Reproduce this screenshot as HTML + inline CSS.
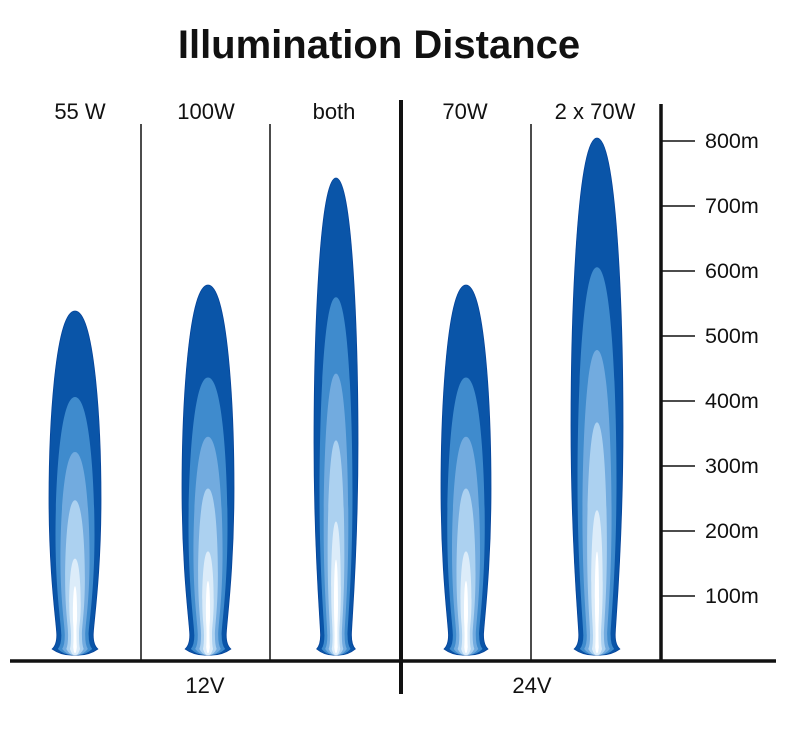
<!DOCTYPE html>
<html><head><meta charset="utf-8"><style>
body{margin:0;background:#fff;}
svg{display:block;font-family:"Liberation Sans",Arial,sans-serif;}
</style></head><body>
<svg id="s" width="800" height="732" viewBox="0 0 800 732">
<text x="379" y="58" font-size="40" font-weight="bold" text-anchor="middle" fill="#111">Illumination Distance</text>
<g font-size="22" fill="#111" text-anchor="middle">
<text x="80" y="119">55 W</text><text x="206" y="119">100W</text><text x="334" y="119">both</text>
<text x="465" y="119">70W</text><text x="595" y="119">2 x 70W</text>
<text x="205" y="693">12V</text><text x="532" y="693">24V</text>
</g>
<g stroke="#111">
<line x1="141" y1="124" x2="141" y2="661" stroke-width="1.5"/>
<line x1="270" y1="124" x2="270" y2="661" stroke-width="1.5"/>
<line x1="531" y1="124" x2="531" y2="661" stroke-width="1.5"/>
<line x1="401" y1="100" x2="401" y2="694" stroke-width="4"/>
<line x1="661" y1="104" x2="661" y2="661" stroke-width="3.5"/>
<line x1="10" y1="661" x2="776" y2="661" stroke-width="3.5"/>
</g>
<g id="ticks"></g>
<g id="beams"></g>
</svg>
<script>
var ns="http://www.w3.org/2000/svg";
var tk=document.getElementById("ticks");
var labs=["800m","700m","600m","500m","400m","300m","200m","100m"];
for(var i=0;i<8;i++){var y=141+i*65;
var l=document.createElementNS(ns,"line");l.setAttribute("x1",661);l.setAttribute("x2",695);l.setAttribute("y1",y);l.setAttribute("y2",y);l.setAttribute("stroke","#111");l.setAttribute("stroke-width","1.5");tk.appendChild(l);
var t=document.createElementNS(ns,"text");t.setAttribute("x",705);t.setAttribute("y",y+7);t.setAttribute("font-size","21.5");t.setAttribute("fill","#111");t.textContent=labs[i];tk.appendChild(t);}
var bm=document.getElementById("beams");
var cols=["#0a55a8","#3f8bcd","#72abdf","#acd1f0","#dcecf9","#ffffff"];
var fr=[1,0.75,0.59,0.45,0.28,0.2];
var wf=[1,0.75,0.56,0.38,0.22,0.08];
function path(cx,t,w,b){var n=b-20,H=n-t;
return "M"+cx+","+t+
" C"+(cx+w*0.75)+","+t+" "+(cx+w)+","+(t+0.35*H)+" "+(cx+w)+","+(t+0.58*H)+
" C"+(cx+w)+","+(t+0.82*H)+" "+(cx+0.7*w)+","+(n-10)+" "+(cx+0.7*w)+","+n+
" Q"+(cx+0.7*w)+","+(n+10)+" "+(cx+0.88*w)+","+(b-6)+
" Q"+(cx+0.5*w)+","+(b+1)+" "+cx+","+b+
" Q"+(cx-0.5*w)+","+(b+1)+" "+(cx-0.88*w)+","+(b-6)+
" Q"+(cx-0.7*w)+","+(n+10)+" "+(cx-0.7*w)+","+n+
" C"+(cx-0.7*w)+","+(n-10)+" "+(cx-w)+","+(t+0.82*H)+" "+(cx-w)+","+(t+0.58*H)+
" C"+(cx-w)+","+(t+0.35*H)+" "+(cx-w*0.75)+","+t+" "+cx+","+t+"Z";}
var B=[[75,311,26],[208,285,26],[336,178,22],[466,285,25],[597,138,26]];
var bot=655;
B.forEach(function(d){var cx=d[0],top=d[1],w=d[2],h=bot-top;
for(var i=0;i<6;i++){var p=document.createElementNS(ns,"path");
p.setAttribute("d",path(cx,bot-h*fr[i],Math.max(w*wf[i],2),bot-(i==5?2:0)));
p.setAttribute("fill",cols[i]);if(i==0){p.setAttribute("stroke","#06449a");p.setAttribute("stroke-width","0.8");}
bm.appendChild(p);}});
</script>
</body></html>
